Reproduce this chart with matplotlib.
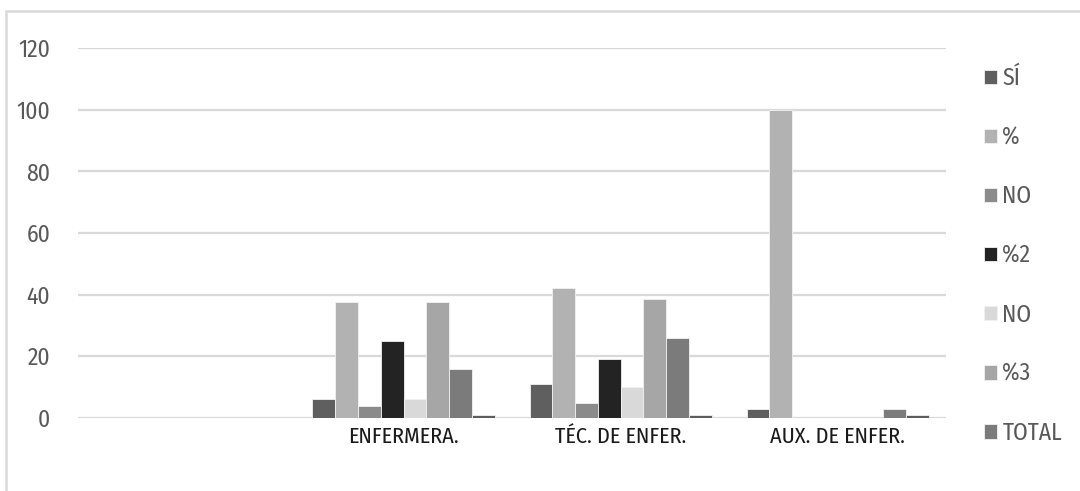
import numpy as np
import matplotlib
matplotlib.use("agg")
import matplotlib.pyplot as plt
from matplotlib.patches import Rectangle

plt.rcParams['font.family'] = ['Fira Sans Condensed', 'DejaVu Sans']
plt.rcParams['font.weight'] = 'normal'

# data
categories = ["", "ENFERMERA.", "TÉC. DE ENFER.", "AUX. DE ENFER."]
series_names = ["SÍ", "%", "NO", "%2", "NO", "%3", "TOTAL", "%4"]
si     = [0, 6, 11, 3]
pct1   = [0, 37.5, 42.3, 100]
no1    = [0, 4, 5, 0]
pct2   = [0, 25, 19.2, 0]
no2    = [0, 6, 10, 0]
pct3   = [0, 37.5, 38.5, 0]
total  = [0, 16, 26, 3]
pct4   = [0, 1, 1, 1]
values = [si, pct1, no1, pct2, no2, pct3, total, pct4]
colors = ["#5f5f5f", "#b2b2b2", "#8b8b8b", "#232323",
          "#d9d9d9", "#a6a6a6", "#7b7b7b", "#5c5c5c"]

fig = plt.figure(figsize=(10.8, 4.91), dpi=100)
ax = fig.add_axes([0.0722, 0.1487, 0.804, 0.7535])

x = np.arange(len(categories))
w = 0.105
n = len(values)
bars = []
for i, (vals, c, name) in enumerate(zip(values, colors, series_names)):
    b = ax.bar(x + (i - (n - 1) / 2) * w, vals, w, color=c, label=name,
               edgecolor="#f2f2f2", linewidth=0.6, zorder=3)
    bars.append(b)

ax.set_ylim(0, 120)
ax.set_xlim(-0.5, len(categories) - 0.5)
ax.set_yticks(range(0, 121, 20))
ax.yaxis.grid(True, color="#d9d9d9", linewidth=1.6, zorder=0)
ax.set_axisbelow(True)
for s in ax.spines.values():
    s.set_visible(False)
ax.tick_params(axis="both", length=0)
ax.tick_params(axis="y", labelsize=17, labelcolor="#595959", pad=20)
ax.set_xticks(x)
ax.set_xticklabels(categories, fontsize=16, color="#1a1a1a")
ax.tick_params(axis="x", pad=6)

# legend: the last series falls outside the visible box
leg = fig.legend(bars[:7], series_names[:7], loc="upper left",
                 bbox_to_anchor=(0.902, 0.883), frameon=False,
                 fontsize=17, handlelength=0.55, handleheight=0.55,
                 handletextpad=0.25, labelspacing=1.525, borderaxespad=0)
for t in leg.get_texts():
    t.set_color("#595959")

# outer chart border (cropped at right and bottom)
fig.patches.append(Rectangle((6 / 1080, -0.05), 1.1, 1 - 11 / 491 + 0.05,
                             transform=fig.transFigure, fill=False,
                             edgecolor="#d9d9d9", linewidth=1.8))

fig.savefig("out.png", dpi=100)
